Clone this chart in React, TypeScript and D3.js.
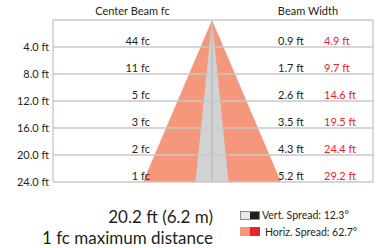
import React from 'react';
import * as d3 from 'd3';

// distance (ft), center beam fc, vertical / horizontal beam width (ft)
const distances = [4, 8, 12, 16, 20, 24];
const centerFc = [44, 11, 5, 3, 2, 1];
const vertWidth = [0.9, 1.7, 2.6, 3.5, 4.3, 5.2];
const horizWidth = [4.9, 9.7, 14.6, 19.5, 24.4, 29.2];
const yTicks = ['4.0 ft', '8.0 ft', '12.0 ft', '16.0 ft', '20.0 ft', '24.0 ft'];
const maxDistance = '20.2 ft (6.2 m)';
const vertSpread = 12.3;
const horizSpread = 62.7;

const W = 377;
const H = 248;
const plot = { left: 53, right: 373, top: 20, bottom: 182 };
const cx = 212;
const font = 'Lato, "Open Sans", sans-serif';

const App = () => {
  const y = d3.scaleLinear().domain([0, 24]).range([plot.top, plot.bottom]);
  const lastH = horizWidth[horizWidth.length - 1] / 2;
  const lastV = vertWidth[vertWidth.length - 1] / 2;
  const xH = d3.scaleLinear().domain([-lastH, lastH]).range([cx - 69, cx + 69]);
  const xV = d3.scaleLinear().domain([-lastV, lastV]).range([cx - 16.5, cx + 16.5]);

  const dMax = distances[distances.length - 1];
  const line = d3.line<[number, number]>();
  const hPath =
    line([
      [xH(0), y(0)],
      [xH(lastH), y(dMax)],
      [xH(-lastH), y(dMax)],
    ]) + 'Z';
  const vPath =
    line([
      [xV(0), y(0)],
      [xV(lastV), y(dMax)],
      [xV(-lastV), y(dMax)],
    ]) + 'Z';

  const grid = '#c9c9c9';
  const text = '#231f20';
  const red = '#e8242c';

  return (
    <svg
      width={W}
      height={H}
      style={{ position: 'absolute', left: 0, top: 0, background: '#fff' }}
      fontFamily={font}
    >
      <path d={hPath} fill="#f5977a" />
      <path d={vPath} fill="#d1d2d4" />
      <line x1={cx} x2={cx} y1={y(0)} y2={y(dMax)} stroke="#b6b7b9" strokeWidth={1.2} />

      {distances.map((d) => (
        <line key={d} x1={plot.left} x2={plot.right} y1={y(d)} y2={y(d)} stroke={grid} strokeWidth={1.4} />
      ))}
      <line x1={plot.left} x2={plot.right} y1={plot.top} y2={plot.top} stroke={grid} strokeWidth={1.4} />
      <line x1={plot.left} x2={plot.left} y1={plot.top} y2={plot.bottom} stroke={grid} strokeWidth={1.4} />
      <line x1={plot.right} x2={plot.right} y1={plot.top} y2={plot.bottom} stroke={grid} strokeWidth={1.4} />

      <text x={(plot.left + cx) / 2} y={15} textAnchor="middle" fontSize={11} fill={text}>
        Center Beam fc
      </text>
      <text x={308} y={15} textAnchor="middle" fontSize={11} fill={text}>
        Beam Width
      </text>

      {distances.map((d, i) => (
        <g key={'r' + d} fontSize={11}>
          <text x={49} y={y(d) + 4} textAnchor="end" fill={text}>
            {yTicks[i]}
          </text>
          <text x={150} y={y(d) - 2.5} textAnchor="end" fill={text}>
            {centerFc[i]} fc
          </text>
          <text x={278} y={y(d) - 2.5} fill={text}>
            {vertWidth[i].toFixed(1)} ft
          </text>
          <text x={324} y={y(d) - 2.5} fill={red}>
            {horizWidth[i].toFixed(1)} ft
          </text>
        </g>
      ))}

      <text x={213} y={223} textAnchor="end" fontSize={17} fill={text}>
        {maxDistance}
      </text>
      <text x={213} y={244} textAnchor="end" fontSize={17} fill={text}>
        1 fc maximum distance
      </text>

      <rect x={240} y={211} width={10} height={9} fill="#e6e7e8" />
      <rect x={250} y={211} width={10} height={9} fill="#231f20" />
      <rect x={240.5} y={211.5} width={19} height={8} fill="none" stroke="#8a8a8a" strokeWidth={1} />
      <text x={262} y={219} fontSize={10.5} fill={text}>
        Vert. Spread: {vertSpread}°
      </text>

      <rect x={240} y={227} width={10} height={9} fill="#f5977a" />
      <rect x={250} y={227} width={10} height={9} fill={red} />
      <text x={265} y={236} fontSize={10.5} fill={text}>
        Horiz. Spread: {horizSpread}°
      </text>
    </svg>
  );
};

export default App;
